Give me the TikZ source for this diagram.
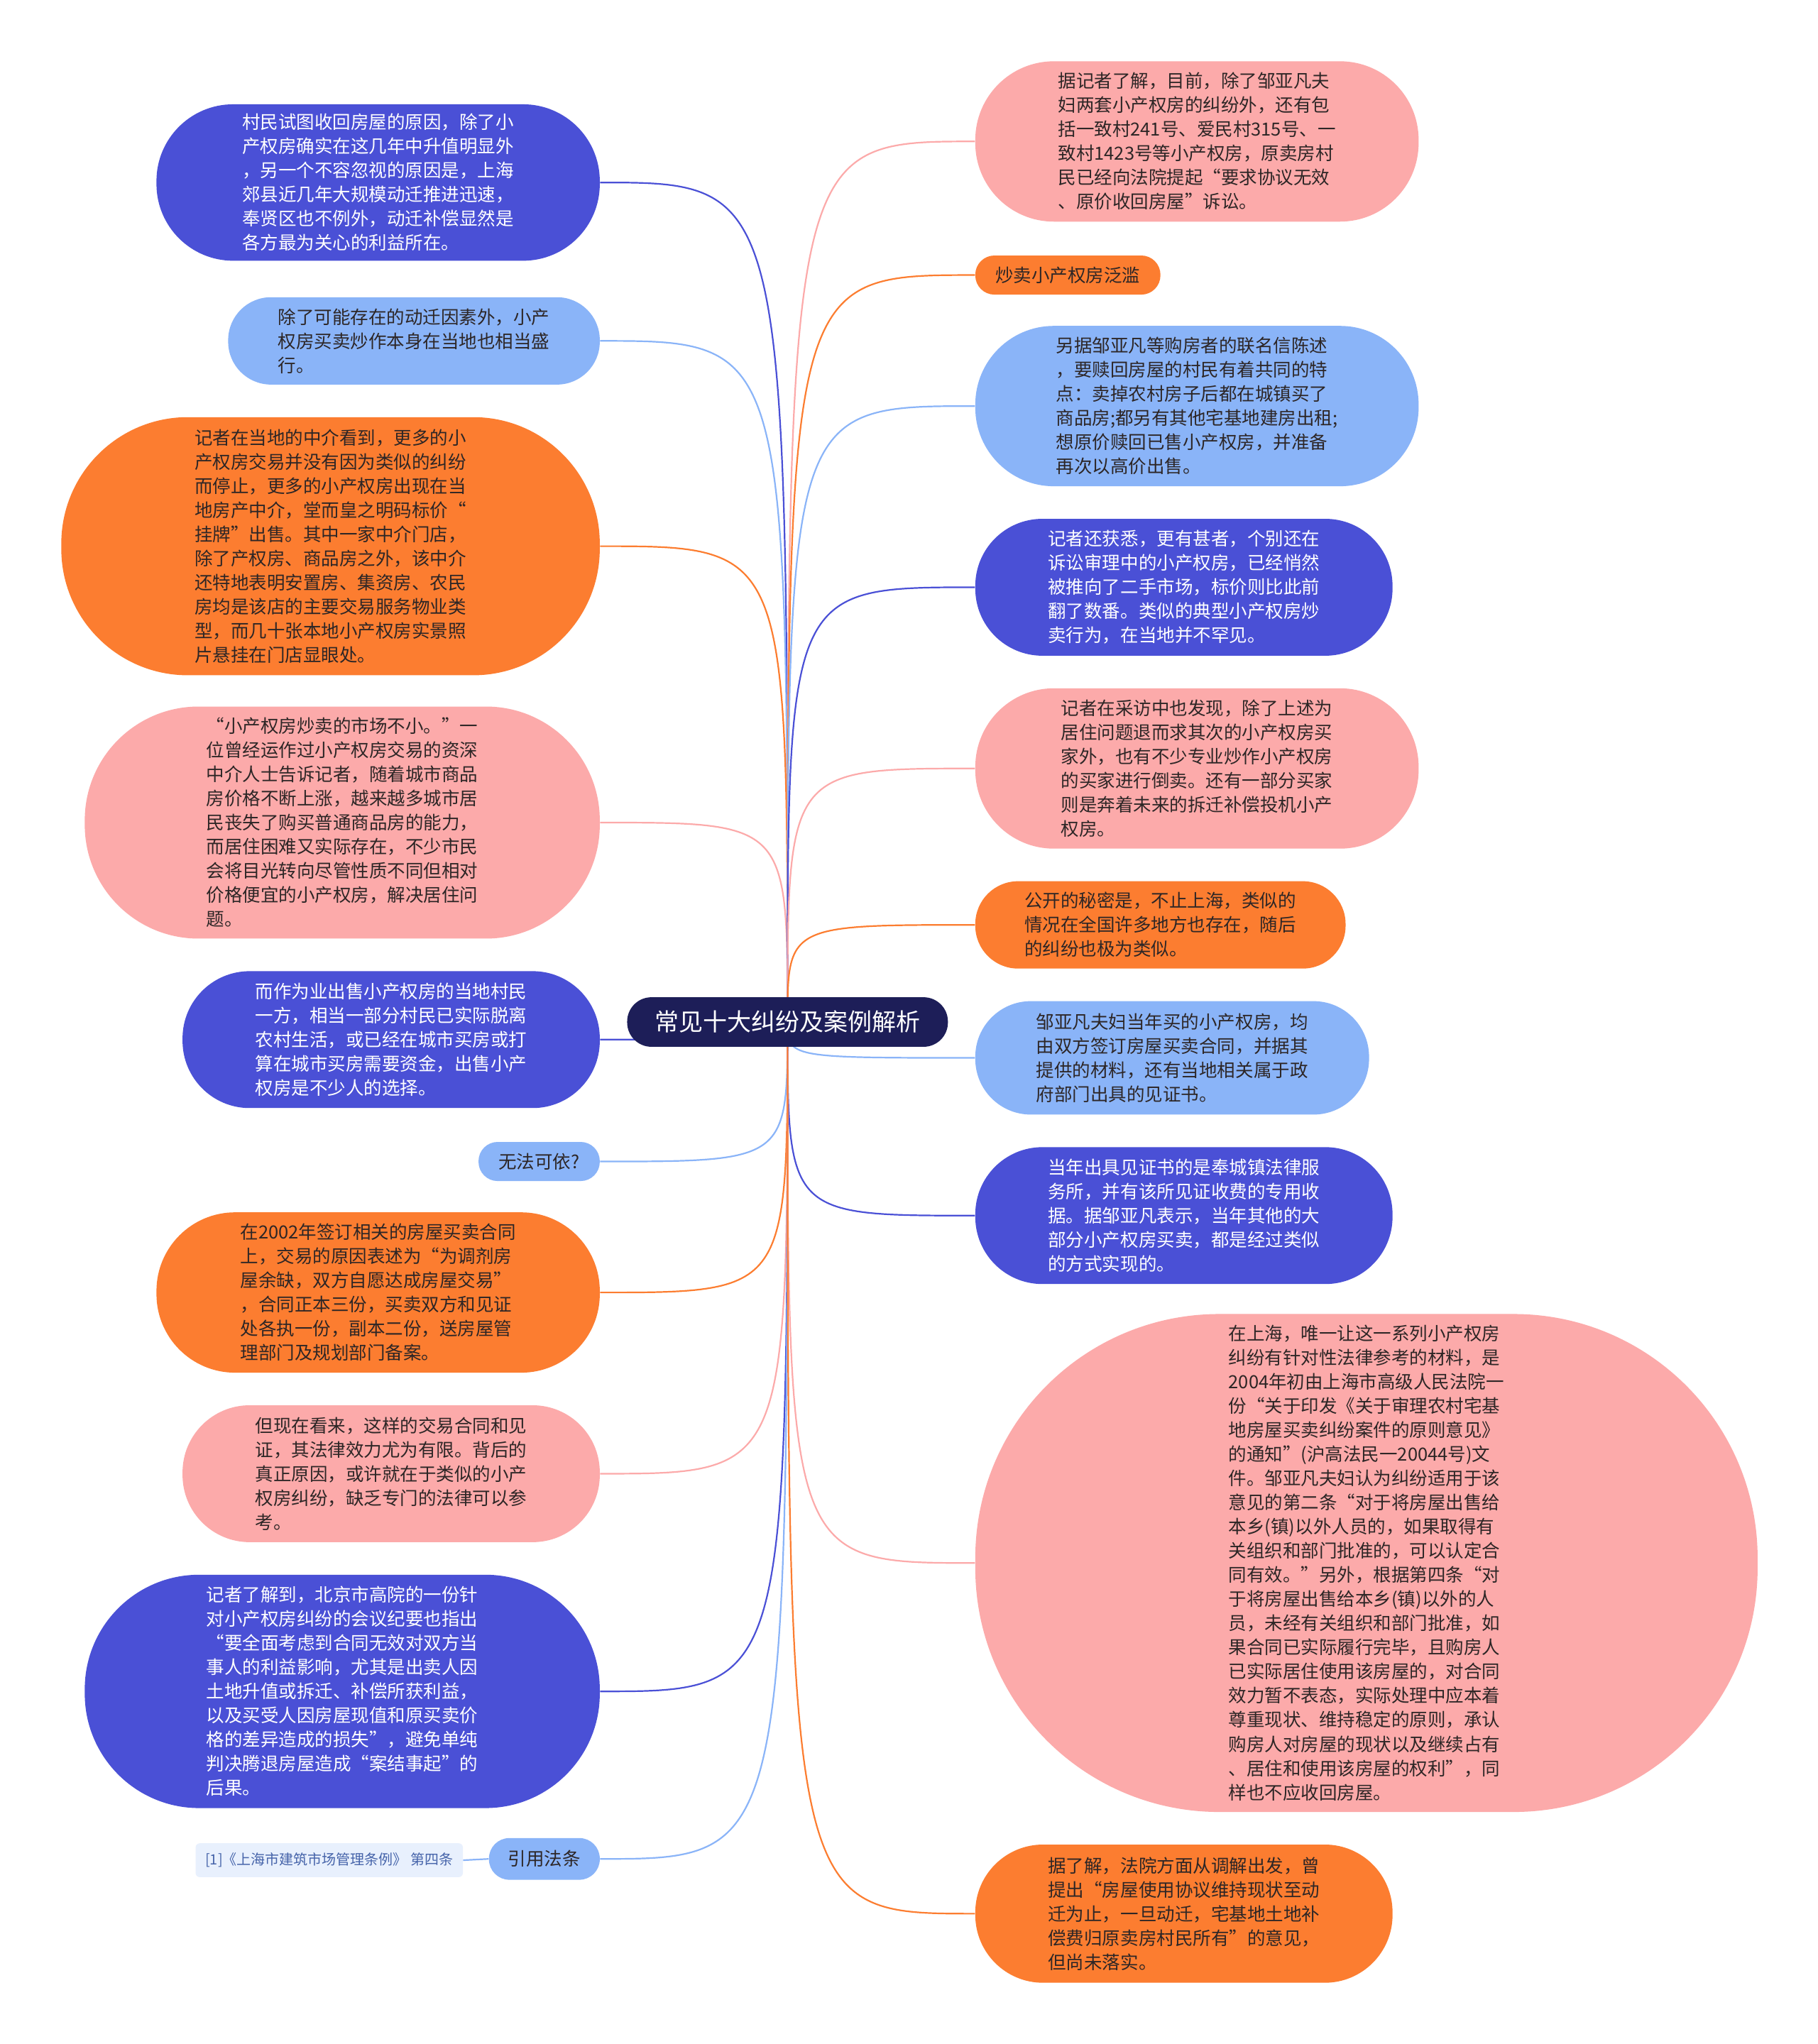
\documentclass[tikz,border=0pt]{standalone}
\usepackage{fontspec}
\setmainfont{Noto Sans CJK SC}
\usetikzlibrary{backgrounds}
\definecolor{cdark}{RGB}{74,80,214}
\definecolor{clight}{RGB}{138,180,248}
\definecolor{corange}{RGB}{252,125,48}
\definecolor{cpink}{RGB}{252,170,170}
\definecolor{ccenter}{RGB}{29,30,88}
\definecolor{ctext}{RGB}{45,38,38}
\definecolor{cref}{RGB}{232,240,253}
\definecolor{creftext}{RGB}{70,100,170}
\tikzset{
  bubble/.style 2 args={minimum width={#1*0.9182pt}, minimum height={#2*0.9182pt},
    rounded corners={#2*0.45pt}, inner sep=0pt, align=left,
    font=\fontsize{12.75pt}{17pt}\selectfont},
  dk/.style={fill=cdark, text=white},
  lt/.style={fill=clight, text=ctext},
  og/.style={fill=corange, text=ctext},
  pk/.style={fill=cpink, text=ctext},
  conn/.style={line width=1.1pt},
}
\begin{document}
\begin{tikzpicture}[x=0.9182pt, y=-0.9182pt]
\useasboundingbox (0,0) rectangle (1394,1568);

% central node
\node[fill=ccenter, text=white, minimum width={246*0.9182pt}, minimum height={38*0.9182pt},
  rounded corners={19*0.9pt}, inner sep=0pt, font=\fontsize{17pt}{20pt}\selectfont] (C) at (604,784) {常见十大纠纷及案例解析};

% left nodes
\node[bubble={340}{120}, dk] (L1) at (290,140) {村民试图收回房屋的原因，除了小\\产权房确实在这几年中升值明显外\\，另一个不容忽视的原因是，上海\\郊县近几年大规模动迁推进迅速，\\奉贤区也不例外，动迁补偿显然是\\各方最为关心的利益所在。};
\node[bubble={285}{67}, lt] (L2) at (317.5,261.5) {除了可能存在的动迁因素外，小产\\权房买卖炒作本身在当地也相当盛\\行。};
\node[bubble={413}{198}, og] (L3) at (253.5,419) {记者在当地的中介看到，更多的小\\产权房交易并没有因为类似的纠纷\\而停止，更多的小产权房出现在当\\地房产中介，堂而皇之明码标价“\\挂牌”出售。其中一家中介门店，\\除了产权房、商品房之外，该中介\\还特地表明安置房、集资房、农民\\房均是该店的主要交易服务物业类\\型，而几十张本地小产权房实景照\\片悬挂在门店显眼处。};
\node[bubble={395}{178}, pk] (L4) at (262.5,631) {“小产权房炒卖的市场不小。”一\\位曾经运作过小产权房交易的资深\\中介人士告诉记者，随着城市商品\\房价格不断上涨，越来越多城市居\\民丧失了购买普通商品房的能力，\\而居住困难又实际存在，不少市民\\会将目光转向尽管性质不同但相对\\价格便宜的小产权房，解决居住问\\题。};
\node[bubble={320}{105}, dk] (L5) at (300,797.5) {而作为业出售小产权房的当地村民\\一方，相当一部分村民已实际脱离\\农村生活，或已经在城市买房或打\\算在城市买房需要资金，出售小产\\权房是不少人的选择。};
\node[bubble={93}{30}, lt, align=center] (L6) at (413.5,891) {无法可依?};
\node[bubble={340}{123}, og] (L7) at (290,991.5) {在2002年签订相关的房屋买卖合同\\上，交易的原因表述为“为调剂房\\屋余缺，双方自愿达成房屋交易”\\，合同正本三份，买卖双方和见证\\处各执一份，副本二份，送房屋管\\理部门及规划部门备案。};
\node[bubble={320}{105}, pk] (L8) at (300,1130.5) {但现在看来，这样的交易合同和见\\证，其法律效力尤为有限。背后的\\真正原因，或许就在于类似的小产\\权房纠纷，缺乏专门的法律可以参\\考。};
\node[bubble={395}{179}, dk] (L9) at (262.5,1297.5) {记者了解到，北京市高院的一份针\\对小产权房纠纷的会议纪要也指出\\“要全面考虑到合同无效对双方当\\事人的利益影响，尤其是出卖人因\\土地升值或拆迁、补偿所获利益，\\以及买受人因房屋现值和原买卖价\\格的差异造成的损失”，避免单纯\\判决腾退房屋造成“案结事起”的\\后果。};
\node[bubble={85}{32}, lt, align=center] (L10) at (417.5,1426) {引用法条};
\node[fill=cref, text=creftext, rounded corners=3pt, inner sep=0pt,
  minimum width={205*0.9182pt}, minimum height={26*0.9182pt},
  font=\fontsize{10pt}{12pt}\selectfont] (REF) at (252.5,1427) {[1]《上海市建筑市场管理条例》 第四条};

% right nodes
\node[bubble={340}{123}, pk] (R1) at (918,108.5) {据记者了解，目前，除了邹亚凡夫\\妇两套小产权房的纠纷外，还有包\\括一致村241号、爱民村315号、一\\致村1423号等小产权房，原卖房村\\民已经向法院提起“要求协议无效\\、原价收回房屋”诉讼。};
\node[bubble={142}{30}, og, align=center] (R2) at (819,211) {炒卖小产权房泛滥};
\node[bubble={340}{123}, lt] (R3) at (918,311.5) {另据邹亚凡等购房者的联名信陈述\\，要赎回房屋的村民有着共同的特\\点：卖掉农村房子后都在城镇买了\\商品房;都另有其他宅基地建房出租;\\想原价赎回已售小产权房，并准备\\再次以高价出售。};
\node[bubble={320}{105}, dk] (R4) at (908,450.5) {记者还获悉，更有甚者，个别还在\\诉讼审理中的小产权房，已经悄然\\被推向了二手市场，标价则比此前\\翻了数番。类似的典型小产权房炒\\卖行为，在当地并不罕见。};
\node[bubble={340}{123}, pk] (R5) at (918,589.5) {记者在采访中也发现，除了上述为\\居住问题退而求其次的小产权房买\\家外，也有不少专业炒作小产权房\\的买家进行倒卖。还有一部分买家\\则是奔着未来的拆迁补偿投机小产\\权房。};
\node[bubble={284}{67}, og] (R6) at (890,709.5) {公开的秘密是，不止上海，类似的\\情况在全国许多地方也存在，随后\\的纠纷也极为类似。};
\node[bubble={302}{87}, lt] (R7) at (899,811.5) {邹亚凡夫妇当年买的小产权房，均\\由双方签订房屋买卖合同，并据其\\提供的材料，还有当地相关属于政\\府部门出具的见证书。};
\node[bubble={320}{105}, dk] (R8) at (908,932.5) {当年出具见证书的是奉城镇法律服\\务所，并有该所见证收费的专用收\\据。据邹亚凡表示，当年其他的大\\部分小产权房买卖，都是经过类似\\的方式实现的。};
\node[bubble={600}{382}, pk] (R9) at (1048,1199) {在上海，唯一让这一系列小产权房\\纠纷有针对性法律参考的材料，是\\2004年初由上海市高级人民法院一\\份“关于印发《关于审理农村宅基\\地房屋买卖纠纷案件的原则意见》\\的通知”(沪高法民一20044号)文\\件。邹亚凡夫妇认为纠纷适用于该\\意见的第二条“对于将房屋出售给\\本乡(镇)以外人员的，如果取得有\\关组织和部门批准的，可以认定合\\同有效。”另外，根据第四条“对\\于将房屋出售给本乡(镇)以外的人\\员，未经有关组织和部门批准，如\\果合同已实际履行完毕，且购房人\\已实际居住使用该房屋的，对合同\\效力暂不表态，实际处理中应本着\\尊重现状、维持稳定的原则，承认\\购房人对房屋的现状以及继续占有\\、居住和使用该房屋的权利”，同\\样也不应收回房屋。};
\node[bubble={320}{106}, og] (R10) at (908,1468) {据了解，法院方面从调解出发，曾\\提出“房屋使用协议维持现状至动\\迁为止，一旦动迁，宅基地土地补\\偿费归原卖房村民所有”的意见，\\但尚未落实。};

% background and connectors
\begin{scope}[on background layer]
\fill[white] (0,0) rectangle (1394,1568);
\draw[conn, cdark]   (C.center) .. controls (C.center |- L1.east) .. (L1.east);
\draw[conn, clight]  (C.center) .. controls (C.center |- L2.east) .. (L2.east);
\draw[conn, corange] (C.center) .. controls (C.center |- L3.east) .. (L3.east);
\draw[conn, cpink]   (C.center) .. controls (C.center |- L4.east) .. (L4.east);
\draw[conn, cdark]   (C.center) .. controls (C.center |- L5.east) .. (L5.east);
\draw[conn, clight]  (C.center) .. controls (C.center |- L6.east) .. (L6.east);
\draw[conn, corange] (C.center) .. controls (C.center |- L7.east) .. (L7.east);
\draw[conn, cpink]   (C.center) .. controls (C.center |- L8.east) .. (L8.east);
\draw[conn, cdark]   (C.center) .. controls (C.center |- L9.east) .. (L9.east);
\draw[conn, clight]  (C.center) .. controls (C.center |- L10.east) .. (L10.east);
\draw[conn, clight]  (L10.west) -- (REF.east);
\draw[conn, cpink]   (C.center) .. controls (C.center |- R1.west) .. (R1.west);
\draw[conn, corange] (C.center) .. controls (C.center |- R2.west) .. (R2.west);
\draw[conn, clight]  (C.center) .. controls (C.center |- R3.west) .. (R3.west);
\draw[conn, cdark]   (C.center) .. controls (C.center |- R4.west) .. (R4.west);
\draw[conn, cpink]   (C.center) .. controls (C.center |- R5.west) .. (R5.west);
\draw[conn, corange] (C.center) .. controls (C.center |- R6.west) .. (R6.west);
\draw[conn, clight]  (C.center) .. controls (C.center |- R7.west) .. (R7.west);
\draw[conn, cdark]   (C.center) .. controls (C.center |- R8.west) .. (R8.west);
\draw[conn, cpink]   (C.center) .. controls (C.center |- R9.west) .. (R9.west);
\draw[conn, corange] (C.center) .. controls (C.center |- R10.west) .. (R10.west);
\end{scope}
\end{tikzpicture}
\end{document}
